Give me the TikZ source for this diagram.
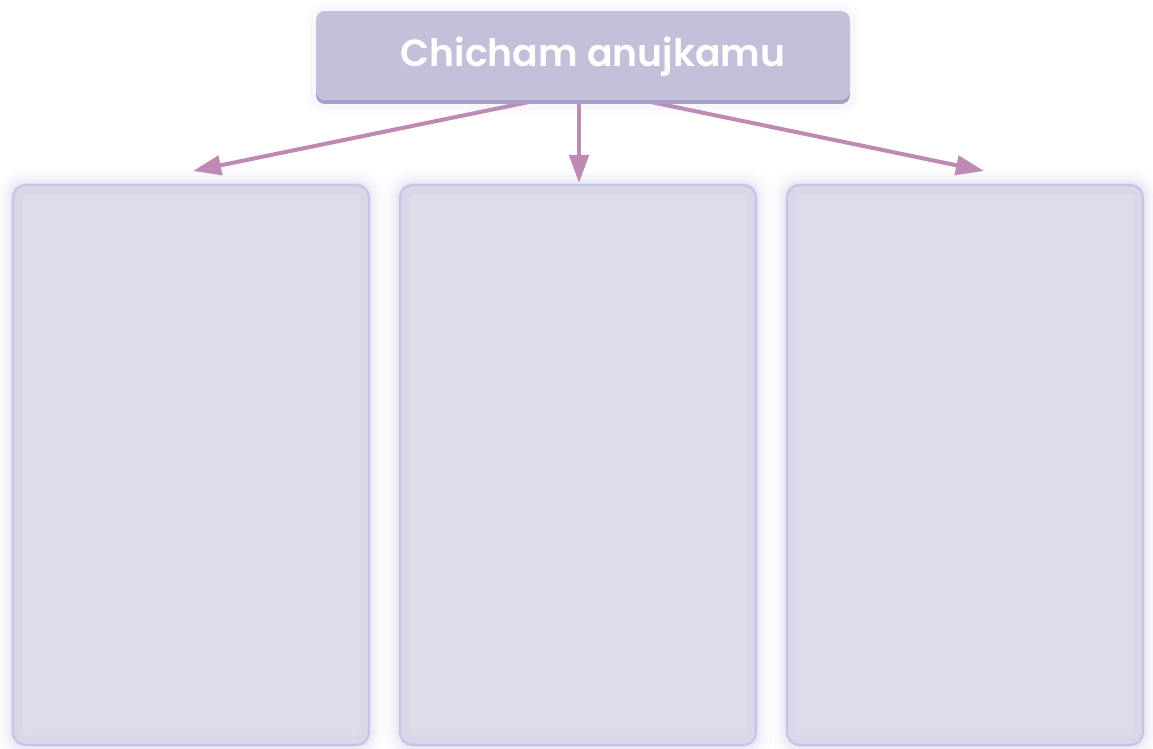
\documentclass[tikz,border=0pt]{standalone}
\usepackage{fontspec}
\usepackage{tikz}
\newfontfamily\poppins{Poppins SemiBold}
\usetikzlibrary{positioning, calc, arrows.meta, backgrounds}

\begin{document}
\begin{tikzpicture}[x=0.02cm, y=-0.02cm]
% --- CORES E LIMITES DA FIGURA ---
\definecolor{caixa}{HTML}{DFDBEA}
\definecolor{borda}{HTML}{C6C8E8}
\definecolor{brilho}{HTML}{B4AEDA}
\definecolor{titulo}{HTML}{C5C0DA}
\definecolor{sombra}{HTML}{A89EC8}
\definecolor{seta}{HTML}{BE8AB4}
\useasboundingbox (0,0) rectangle (1153,749);

% LAYER 1: Caixas vazias com brilho
\foreach \nome/\cx in {caixaA/191, caixaB/578, caixaC/965} {
  \foreach \w/\o in {20/0.03, 15/0.04, 11/0.06, 7/0.08, 4/0.1}
    \draw[brilho, line width=\w pt, opacity=\o, rounded corners=7pt] (\cx-178,185) rectangle (\cx+178,745);
  \node[fill=caixa, draw=borda, line width=1.2pt, rounded corners=7pt, minimum width=7.12cm, minimum height=11.2cm] (\nome) at (\cx,465) {};
  \draw[brilho, line width=6pt, opacity=0.1, rounded corners=5pt] (\cx-174,189) rectangle (\cx+174,741);
}

% LAYER 2: Titulo
\foreach \w/\o in {12/0.04, 7/0.06}
  \draw[brilho, line width=\w pt, opacity=\o, rounded corners=5pt] (316,12) rectangle (850,104);
\fill[sombra, rounded corners=5pt] (316,16) rectangle (850,104);
\node[fill=titulo, rounded corners=5pt, minimum width=10.68cm, minimum height=1.78cm] (titulo) at (583,55.5) {};
\node[text=white, font=\poppins\fontsize{21.5}{24}\selectfont] (rotulo) at (593,57) {Chicham anujkamu};

% LAYER 3: Setas
\coordinate (pontaA) at (193,171);
\coordinate (pontaB) at (579,183);
\coordinate (pontaC) at (984,171);
\begin{scope}[on background layer]
\draw[-{Triangle[length=16pt, width=11pt]}, seta, line width=2.3pt] ($(titulo.south)+(-46,0)$) -- (pontaA);
\draw[-{Triangle[length=16pt, width=11pt]}, seta, line width=2.3pt] ($(titulo.south)+(-4,0)$) -- (pontaB);
\draw[-{Triangle[length=16pt, width=11pt]}, seta, line width=2.3pt] ($(titulo.south)+(60,0)$) -- (pontaC);
\end{scope}
\end{tikzpicture}
\end{document}
